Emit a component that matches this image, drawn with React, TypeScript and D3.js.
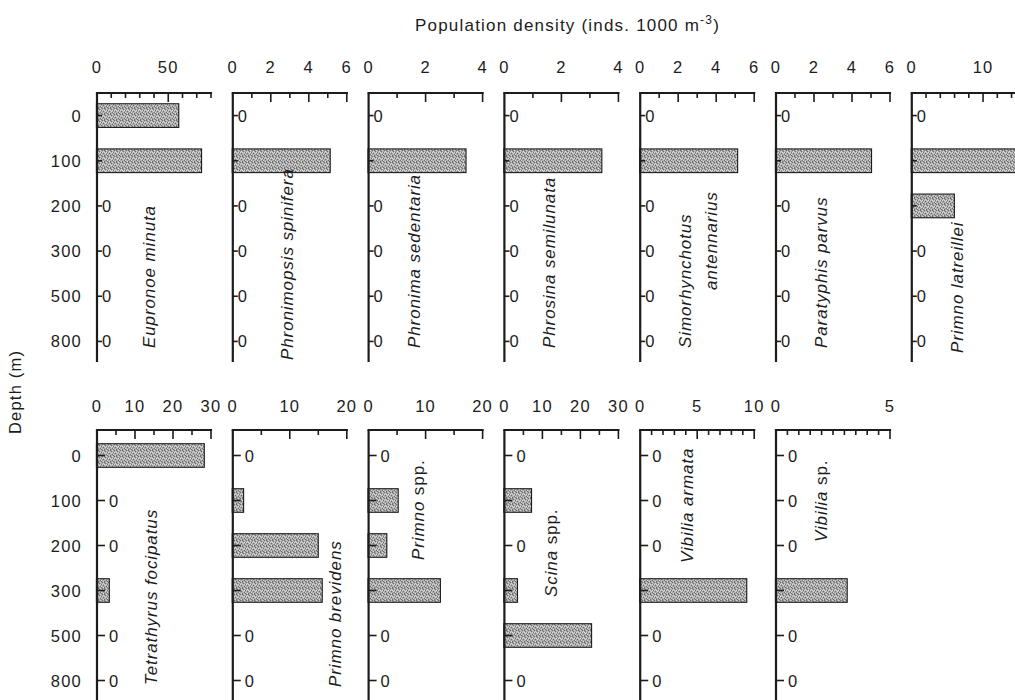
import React, { useEffect } from "react";
import * as d3 from "d3";

// depth strata (m)
const depths = ["0", "100", "200", "300", "500", "800"];

// population density, inds. 1000 m^-3, one value per depth (top row)
const eupronoeMinuta = [57, 73, 0, 0, 0, 0];
const phronimopsisSpinifera = [0, 5.1, 0, 0, 0, 0];
const phronimaSedentaria = [0, 3.4, 0, 0, 0, 0];
const phrosinaSemilunata = [0, 3.4, 0, 0, 0, 0];
const simorhynchotusAntennarius = [0, 5.1, 0, 0, 0, 0];
const paratyphisParvus = [0, 5.0, 0, 0, 0, 0];
const primnoLatreillei = [0, 15.5, 5.9, 0, 0, 0];

// bottom row
const tetrathyrusFocipatus = [28.1, 0, 0, 3.1, 0, 0];
const primnoBrevidens = [0, 1.8, 14.9, 15.6, 0, 0];
const primnoSpp = [0, 5.1, 3.1, 12.5, 0, 0];
const scinaSpp = [0, 7.0, 0, 3.3, 22.8, 0];
const vibiliaArmata = [0, 0, 0, 9.3, 0, 0];
const vibiliaSp = [0, 0, 0, 3.1, 0, 0];

// x axes
const topMax = [80, 6, 4, 4, 6, 6, 16];
const topTickLabels = [[0, 50], [0, 2, 4, 6], [0, 2, 4], [0, 2, 4], [0, 2, 4, 6], [0, 2, 4, 6], [0, 10]];
const topMinorStep = [10, 1, 1, 1, 1, 1, 2];
const bottomMax = [30, 20, 20, 30, 10, 5];
const bottomTickLabels = [[0, 10, 20, 30], [0, 10, 20], [0, 10, 20], [0, 10, 20, 30], [0, 5, 10], [0, 5]];
const bottomMinorStep = [5, 5, 5, 5, 1, 0.5];

// species names: [text, italic] pieces, one array per line
type Piece = [string, boolean];
const topNames: Piece[][][] = [
  [[["Eupronoe minuta", true]]],
  [[["Phronimopsis spinifera", true]]],
  [[["Phronima sedentaria", true]]],
  [[["Phrosina semilunata", true]]],
  [[["Simorhynchotus", true]], [["antennarius", true]]],
  [[["Paratyphis parvus", true]]],
  [[["Primno latreillei", true]]],
];
const bottomNames: Piece[][][] = [
  [[["Tetrathyrus focipatus", true]]],
  [[["Primno brevidens", true]]],
  [[["Primno", true], [" spp.", false]]],
  [[["Scina", true], [" spp.", false]]],
  [[["Vibilia armata", true]]],
  [[["Vibilia", true], [" sp.", false]]],
];

// where each name line sits: [x offset of its centre from panel left, bottom y]
const topNamePos = [
  [[53, 348]], [[55, 360]], [[46, 348]], [[46, 348]],
  [[46, 348], [72, 290]], [[46, 348]], [[46, 353]],
];
const bottomNamePos = [
  [[55, 685]], [[103, 687]], [[50, 560]], [[48, 597]], [[48, 563]], [[46, 542]],
];

const FONT = "'Liberation Sans', Arial, Helvetica, sans-serif";
const FS = 16.5;
const LS = 1.2;
const INK = "#1c1c1c";
const PANEL_X0 = 97;
const PANEL_STEP = 135.8;
const PANEL_W = 114;

interface PanelProps {
  left: number;
  values: number[];
  max: number;
  tickLabels: number[];
  minorStep: number;
  frameTop: number;
  bandRange: [number, number];
  axisBottom: number;
  tickLen: number;
  zeroDx: number;
  labelY: number;
  name: Piece[][];
  namePos: number[][];
  showDepths: boolean;
}

const Panel: React.FC<PanelProps> = ({
  left, values, max, tickLabels, minorStep, frameTop, bandRange, axisBottom,
  tickLen, zeroDx, labelY, name, namePos, showDepths
}) => {
  const x = d3.scaleLinear().domain([0, max]).range([left, left + PANEL_W]);
  const y = d3.scaleBand<string>().domain(depths).range(bandRange).paddingInner(0.5).paddingOuter(0.25);
  const ticks = d3.range(minorStep, max + 1e-9, minorStep);

  return (
    <g>
      {values.map((v, i) => v > 0 ? (
        <rect key={"b" + i} x={x(0)} y={y(depths[i])} width={x(v) - x(0)} height={y.bandwidth()}
          fill="url(#stipple)" stroke={INK} strokeWidth={2.2} />
      ) : null)}

      <line x1={left} x2={left} y1={frameTop} y2={axisBottom} stroke={INK} strokeWidth={2.2} />
      <line x1={left} x2={left + PANEL_W} y1={frameTop} y2={frameTop} stroke={INK} strokeWidth={2.2} strokeLinecap="square" />

      {ticks.map((t, i) => {
        const major = tickLabels.some(l => Math.abs(l - t) < 1e-9);
        return <line key={"t" + i} x1={x(t)} x2={x(t)} y1={frameTop} y2={frameTop + (major ? 9 : 5)}
          stroke={INK} strokeWidth={1.6} />;
      })}
      {tickLabels.map(t => (
        <text key={"l" + t} x={x(t)} y={labelY} textAnchor="middle">{t}</text>
      ))}

      {depths.map(d => {
        const cy = (y(d) as number) + y.bandwidth() / 2;
        return <line key={"d" + d} x1={left} x2={left + tickLen} y1={cy} y2={cy} stroke={INK} strokeWidth={1.6} />;
      })}
      {values.map((v, i) => v === 0 ? (
        <text key={"z" + i} x={left + zeroDx} y={(y(depths[i]) as number) + y.bandwidth() / 2 + 6}>0</text>
      ) : null)}

      {showDepths && depths.map(d => (
        <text key={"c" + d} x={left - 15} y={(y(d) as number) + y.bandwidth() / 2 + 6} textAnchor="end">{d}</text>
      ))}

      {name.map((line, li) => (
        <text key={"n" + li}
          transform={`translate(${left + namePos[li][0] + 5},${namePos[li][1]}) rotate(-90)`}
          fontSize={FS + 0.5} letterSpacing={0.9}>
          {line.map(([txt, it], pi) => (
            <tspan key={pi} fontStyle={it ? "italic" : "normal"}>{txt}</tspan>
          ))}
        </text>
      ))}
    </g>
  );
};

export default function App() {
  useEffect(() => {
    document.body.style.margin = "0";
  }, []);

  const topSeries = [eupronoeMinuta, phronimopsisSpinifera, phronimaSedentaria, phrosinaSemilunata,
    simorhynchotusAntennarius, paratyphisParvus, primnoLatreillei];
  const bottomSeries = [tetrathyrusFocipatus, primnoBrevidens, primnoSpp, scinaSpp, vibiliaArmata, vibiliaSp];

  // stipple texture for the bars (fixed dot layout in a 6x6 tile)
  const dark = [[0, 0], [3, 1], [5, 2], [1, 3], [4, 4], [2, 5], [5, 5], [2, 0]];
  const light = [[1, 1], [4, 0], [0, 2], [3, 3], [5, 4], [1, 5], [2, 2], [4, 2]];

  return (
    <svg width={1015} height={700} style={{ display: "block", background: "#fff" }}
      fontFamily={FONT} fontSize={FS} letterSpacing={LS} fill={INK} stroke="none">
      <defs>
        <pattern id="stipple" width={6} height={6} patternUnits="userSpaceOnUse">
          <rect width={6} height={6} fill="#aaaaaa" />
          {dark.map(([a, b], i) => <rect key={"k" + i} x={a} y={b} width={1} height={1} fill="#6e6e6e" />)}
          {light.map(([a, b], i) => <rect key={"w" + i} x={a} y={b} width={1} height={1} fill="#d8d8d8" />)}
        </pattern>
      </defs>

      <g style={{ paintOrder: "stroke" }}>
        <text x={415} y={31} fontSize={FS + 0.5}>
          Population density (inds. 1000 m
          <tspan dy={-7} fontSize={12}>-3</tspan>
          <tspan dy={7}>)</tspan>
        </text>

        <text transform="translate(21,434) rotate(-90)">Depth (m)</text>

        {topSeries.map((vals, i) => (
          <Panel key={"top" + i} left={PANEL_X0 + i * PANEL_STEP} values={vals}
            max={topMax[i]} tickLabels={topTickLabels[i]} minorStep={topMinorStep[i]}
            frameTop={93} bandRange={[93, 364]} axisBottom={362}
            tickLen={5} zeroDx={5} labelY={73}
            name={topNames[i]} namePos={topNamePos[i]} showDepths={i === 0} />
        ))}

        {bottomSeries.map((vals, i) => (
          <Panel key={"bot" + i} left={PANEL_X0 + i * PANEL_STEP} values={vals}
            max={bottomMax[i]} tickLabels={bottomTickLabels[i]} minorStep={bottomMinorStep[i]}
            frameTop={430} bandRange={[433, 703]} axisBottom={702}
            tickLen={8} zeroDx={12} labelY={412}
            name={bottomNames[i]} namePos={bottomNamePos[i]} showDepths={i === 0} />
        ))}
      </g>
    </svg>
  );
}
